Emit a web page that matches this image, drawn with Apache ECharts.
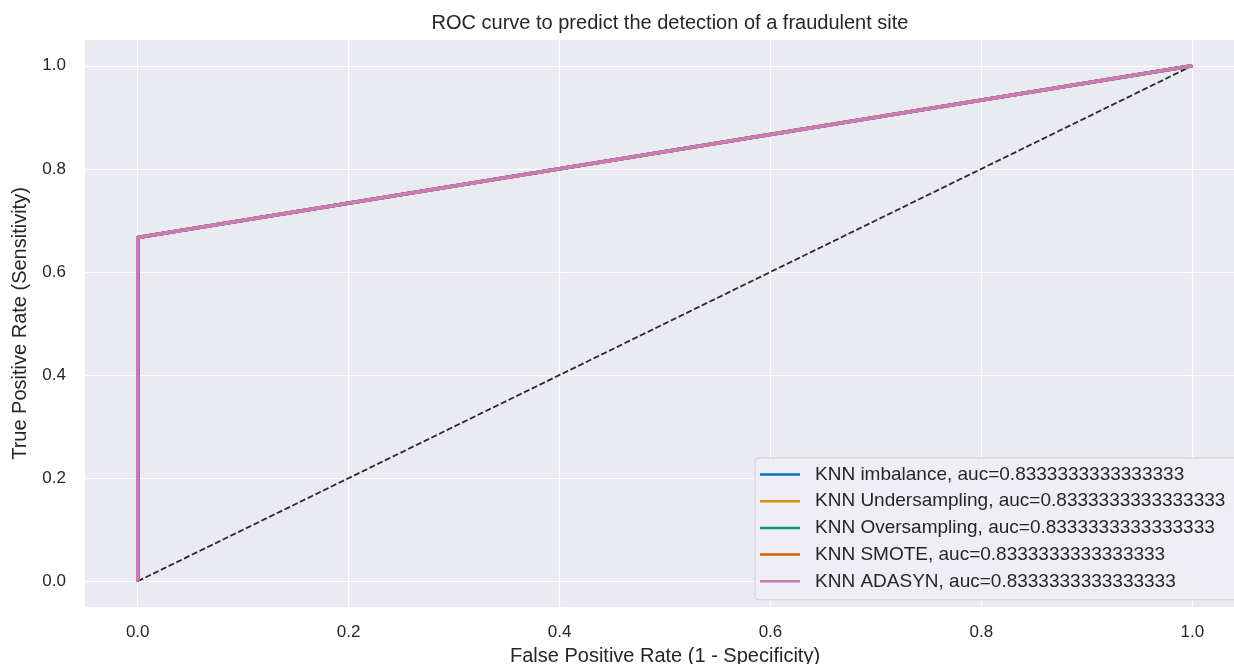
<!DOCTYPE html>
<html><head><meta charset="utf-8">
<script src="https://cdn.jsdelivr.net/npm/echarts@6/dist/echarts.min.js"></script>
<style>html,body{margin:0;padding:0;background:#fff}#c{width:1234px;height:664px}</style>
</head><body><div id="c"></div>
<script>
const fpr = [0, 0, 1];
const tpr = [0, 0.6666666666666666, 1];
const chanceX = [0, 1];
const chanceY = [0, 1];
const seriesNames = [
  'KNN imbalance, auc=0.8333333333333333',
  'KNN Undersampling, auc=0.8333333333333333',
  'KNN Oversampling, auc=0.8333333333333333',
  'KNN SMOTE, auc=0.8333333333333333',
  'KNN ADASYN, auc=0.8333333333333333'
];
const colors = ['#0173B2', '#DE8F05', '#029E73', '#D55E00', '#CC78BC'];
const tickValues = [0, 0.2, 0.4, 0.6, 0.8, 1.0];

const font = '"Liberation Sans", Arial, sans-serif';
const txt = '#262626';
const chart = echarts.init(document.getElementById('c'), null, {renderer: 'canvas'});

const series = seriesNames.map((n, i) => ({
  name: n, type: 'line', showSymbol: false, symbol: 'none',
  data: fpr.map((x, k) => [x, tpr[k]]),
  lineStyle: {color: colors[i], width: 3.5}, itemStyle: {color: colors[i]},
  z: 3 + i, animation: false
}));
series.push({
  name: 'chance', type: 'line', symbol: 'none',
  data: chanceX.map((x, k) => [x, chanceY[k]]),
  lineStyle: {color: '#2a2a2a', width: 1.8, type: [6, 2.6]},
  z: 2, animation: false
});

const axisCommon = {
  type: 'value', min: -0.05, max: 1.05,
  axisLine: {show: false}, axisTick: {show: false, customValues: tickValues},
  splitLine: {show: true, lineStyle: {color: '#ffffff', width: 1.2}, customValues: tickValues},
  axisLabel: {customValues: tickValues, color: txt, fontSize: 17, fontFamily: font,
    formatter: v => v.toFixed(1)},
  nameLocation: 'middle',
  nameTextStyle: {color: txt, fontSize: 20, fontFamily: font}
};

chart.setOption({
  animation: false,
  title: {text: 'ROC curve to predict the detection of a fraudulent site',
    left: 665, top: 8, textAlign: 'center',
    textStyle: {color: txt, fontSize: 20, fontWeight: 'normal', fontFamily: font}},
  grid: {left: 85, top: 40, width: 1160, height: 567, backgroundColor: '#EAEAF2', show: true, borderWidth: 0,
    outerBoundsMode: 'none', containLabel: false},
  xAxis: Object.assign({}, axisCommon, {name: 'False Positive Rate (1 - Specificity)', nameGap: 39,
    axisLabel: Object.assign({}, axisCommon.axisLabel, {margin: 17})}),
  yAxis: Object.assign({}, axisCommon, {name: 'True Positive Rate (Sensitivity)', nameGap: 55,
    axisLabel: Object.assign({}, axisCommon.axisLabel, {margin: 19})}),
  legend: {
    data: seriesNames, orient: 'vertical', left: 755, top: 458,
    itemWidth: 40, itemHeight: 14, itemGap: 7.7,
    padding: [7, 14, 9, 5],
    backgroundColor: 'rgba(238,238,244,0.9)', borderColor: '#d0d0d0', borderWidth: 1, borderRadius: 4,
    textStyle: {color: txt, fontSize: 19, lineHeight: 19, fontFamily: font, padding: [0, 0, 0, 10]},
    icon: 'path://M0,0 L40,0 L40,2.5 L0,2.5 Z'
  },
  series: series
});
</script></body></html>
